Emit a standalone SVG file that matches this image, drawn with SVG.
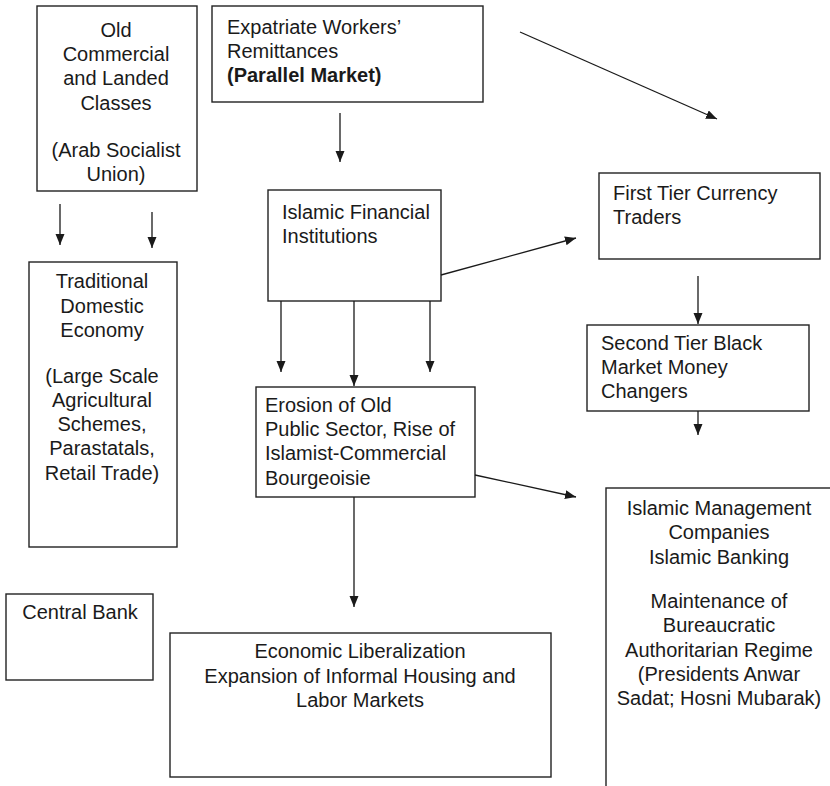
<svg xmlns="http://www.w3.org/2000/svg" width="830" height="786" viewBox="0 0 830 786">
<defs>
<marker id="ah" markerUnits="userSpaceOnUse" markerWidth="12" markerHeight="10" refX="11" refY="4.5" orient="auto">
<path d="M0,0 L11,4.5 L0,9 z" fill="#1a1a1a"/>
</marker>
<style>
rect{fill:#fff;stroke:#222;stroke-width:1.4}
text{font-family:"Liberation Sans",Arial,sans-serif;font-size:20px;fill:#1a1a1a}
.c{text-anchor:middle}
.b{font-weight:bold}
#connectors line{stroke:#1a1a1a;stroke-width:1.3;marker-end:url(#ah)}
</style>
</defs>
<rect x="0" y="0" width="830" height="786" style="fill:#fff;stroke:none"/>
<g id="old-commercial">
<rect x="37" y="6" width="160" height="185"/>
<text class="c" x="116" y="37">Old</text>
<text class="c" x="116" y="61">Commercial</text>
<text class="c" x="116" y="85">and Landed</text>
<text class="c" x="116" y="110">Classes</text>
<text class="c" x="116" y="157">(Arab Socialist</text>
<text class="c" x="116" y="181">Union)</text>
</g>
<g id="expatriate">
<rect x="212" y="6" width="271" height="96"/>
<text x="227" y="34">Expatriate Workers’</text>
<text x="227" y="58">Remittances</text>
<text class="b" x="227" y="82">(Parallel Market)</text>
</g>
<g id="islamic-financial">
<rect x="268" y="190" width="173" height="111"/>
<text x="282" y="219">Islamic Financial</text>
<text x="282" y="243">Institutions</text>
</g>
<g id="first-tier">
<rect x="599" y="173" width="221" height="86"/>
<text x="613" y="200">First Tier Currency</text>
<text x="613" y="224">Traders</text>
</g>
<g id="second-tier">
<rect x="587" y="325" width="222" height="86"/>
<text x="601" y="350">Second Tier Black</text>
<text x="601" y="374">Market Money</text>
<text x="601" y="398">Changers</text>
</g>
<g id="traditional">
<rect x="29" y="262" width="148" height="285"/>
<text class="c" x="102" y="288">Traditional</text>
<text class="c" x="102" y="313">Domestic</text>
<text class="c" x="102" y="337">Economy</text>
<text class="c" x="102" y="383">(Large Scale</text>
<text class="c" x="102" y="407">Agricultural</text>
<text class="c" x="102" y="431">Schemes,</text>
<text class="c" x="102" y="455">Parastatals,</text>
<text class="c" x="102" y="480">Retail Trade)</text>
</g>
<g id="erosion">
<rect x="256" y="387" width="219" height="110"/>
<text x="265" y="412">Erosion of Old</text>
<text x="265" y="436">Public Sector, Rise of</text>
<text x="265" y="460">Islamist-Commercial</text>
<text x="265" y="485">Bourgeoisie</text>
</g>
<g id="islamic-management">
<rect x="606" y="488" width="260" height="320"/>
<text class="c" x="719" y="515">Islamic Management</text>
<text class="c" x="719" y="539">Companies</text>
<text class="c" x="719" y="564">Islamic Banking</text>
<text class="c" x="719" y="608">Maintenance of</text>
<text class="c" x="719" y="632">Bureaucratic</text>
<text class="c" x="719" y="657">Authoritarian Regime</text>
<text class="c" x="719" y="681">(Presidents Anwar</text>
<text class="c" x="719" y="705">Sadat; Hosni Mubarak)</text>
</g>
<g id="central-bank">
<rect x="6" y="594" width="147" height="86"/>
<text class="c" x="80" y="619">Central Bank</text>
</g>
<g id="economic-liberalization">
<rect x="170" y="633" width="381" height="144"/>
<text class="c" x="360" y="658">Economic Liberalization</text>
<text class="c" x="360" y="683">Expansion of Informal Housing and</text>
<text class="c" x="360" y="707">Labor Markets</text>
</g>
<g id="connectors">
<line x1="340" y1="113" x2="340" y2="162"/>
<line x1="520" y1="32" x2="717" y2="119"/>
<line x1="60" y1="204" x2="60" y2="245"/>
<line x1="152" y1="212" x2="152" y2="248"/>
<line x1="441" y1="275" x2="576" y2="238"/>
<line x1="698" y1="276" x2="698" y2="324"/>
<line x1="281" y1="301" x2="281" y2="372"/>
<line x1="354" y1="301" x2="354" y2="386"/>
<line x1="430" y1="301" x2="430" y2="372"/>
<line x1="698" y1="411" x2="698" y2="435"/>
<line x1="475" y1="475" x2="576" y2="497"/>
<line x1="354" y1="497" x2="354" y2="607"/>
</g>
</svg>
